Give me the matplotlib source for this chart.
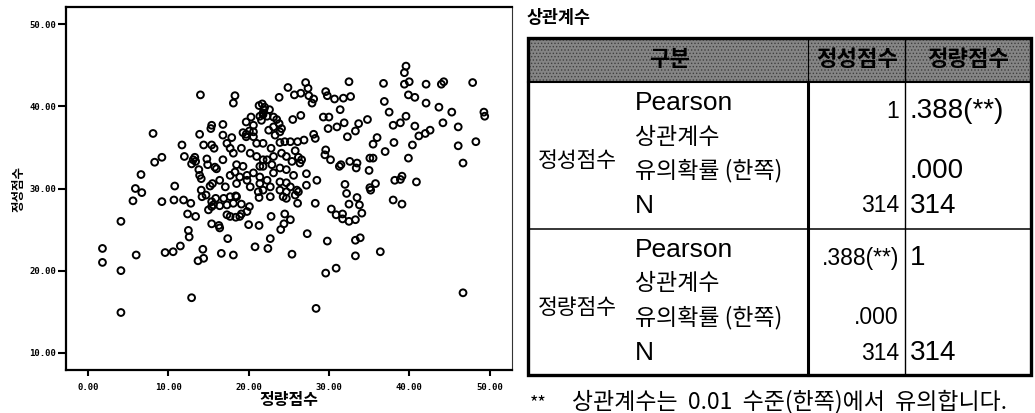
import numpy as np
import matplotlib
matplotlib.use('Agg')
import matplotlib.pyplot as plt
from matplotlib.patches import Rectangle

KR = 'Noto Sans CJK KR'
LAT = 'Liberation Sans'
plt.rcParams['font.family'] = [KR, 'DejaVu Sans']
plt.rcParams['hatch.linewidth'] = 0.6

# --- scatter data (정량점수 vs 정성점수) ---
quant_x = [
    39.6, 39.4, 32.5, 36.8, 39.4, 40.0, 42.1, 44.0, 44.3, 47.9,
    31.8, 32.7, 36.9, 39.9, 40.7, 42.1, 43.7, 45.3, 49.3, 49.4,
    37.5, 39.6, 38.0, 38.9, 40.7, 44.2, 46.1, 31.4, 31.9, 33.7,
    34.8, 33.3, 32.3, 41.2, 42.0, 42.6, 36.0, 35.5, 38.1, 40.4,
    48.3, 46.1, 37.0, 39.9, 35.1, 35.5, 46.7, 32.6, 33.5, 33.4,
    31.5, 35.0, 38.2, 38.9, 39.1, 40.9, 32.0, 35.1, 35.8, 33.5,
    38.0, 32.5, 33.8, 35.2, 39.1, 34.1, 31.7, 31.7, 32.5, 33.3,
    33.3, 33.9, 33.3, 36.4, 46.7,
    28.3, 30.3, 30.9, 27.3, 29.8, 30.9, 29.6, 28.4, 25.4, 22.7,
    22.4, 20.8, 16.6, 18.1, 17.4, 21.3, 20.0, 22.8, 24.0, 24.4,
    25.2, 24.5, 15.4, 16.3, 16.4, 26.1, 25.8, 24.7, 26.2, 21.3,
    21.2,
    4.1, 1.8, 1.8, 4.1, 4.1, 6.0, 12.9, 9.6, 10.6, 11.5,
    12.5, 12.6, 14.3, 14.4, 13.7, 12.4, 13.4, 9.2, 10.7, 11.9,
    12.8, 5.6, 6.7, 5.9, 15.0, 15.6, 16.4, 17.3, 18.1, 18.9,
    19.8, 20.1, 17.3, 17.7,
    14.0, 8.1, 15.4, 15.3, 13.9, 11.7, 14.4, 15.4, 15.7, 9.2,
    8.3, 12.0, 13.3, 13.1, 12.9, 13.4, 14.8, 14.9, 15.8, 16.0,
    6.6, 13.8, 13.9, 14.1, 10.8, 15.5, 15.2, 14.1, 14.7, 14.2,
    27.1, 24.9, 27.4, 18.3, 18.1, 23.8, 25.7, 26.5, 27.5, 28.1,
    27.9, 29.6, 29.8, 30.7, 21.7, 21.3, 22.0, 22.6, 21.8, 22.3,
    23.1, 23.5, 25.5, 26.5, 29.3, 30.0, 20.3, 19.7, 20.6, 23.8,
    24.1, 22.5, 20.6, 16.8, 16.8, 17.9, 29.9, 31.0, 28.1, 28.3,
    19.3, 19.7, 20.6, 21.0, 21.8, 22.8, 23.9, 24.5, 25.2, 26.1,
    26.9, 17.3, 17.7, 18.1, 19.1, 29.6, 29.5, 30.2, 20.2, 21.0,
    21.8, 23.1, 24.1, 24.7, 25.4, 26.2, 26.6, 26.4, 16.8, 18.5,
    19.3, 18.3, 17.7, 18.9, 19.8, 21.8, 22.9, 23.9, 23.1, 24.7,
    25.6, 27.2, 28.5, 31.3, 16.4, 17.1, 18.5, 20.2, 21.4, 21.8,
    22.7, 23.9, 25.2, 26.0, 27.2, 32.2, 17.7, 18.5, 22.7, 24.3,
    18.4, 19.1, 19.1, 18.4, 16.9, 15.9, 15.4, 15.4, 25.8, 22.3,
    21.4, 24.7, 23.9, 22.3, 21.4, 20.6, 19.8, 21.9, 21.8, 21.4,
    21.6, 20.1, 19.7, 23.1, 23.3, 23.9, 24.7,
]
qual_y = [
    44.9, 44.1, 43.0, 42.8, 42.7, 43.0, 42.7, 42.7, 43.0, 42.9,
    41.0, 41.2, 40.6, 41.4, 41.1, 40.4, 39.9, 39.3, 39.3, 38.8,
    39.3, 38.8, 37.7, 38.0, 37.6, 38.0, 37.5, 39.6, 38.0, 37.9,
    38.4, 37.0, 36.3, 36.4, 36.7, 37.1, 36.2, 35.4, 35.6, 35.3,
    35.7, 35.2, 34.5, 33.7, 33.7, 33.7, 33.1, 33.3, 33.1, 32.5,
    32.9, 32.2, 31.0, 31.1, 31.5, 30.8, 30.5, 30.1, 30.6, 28.9,
    28.6, 28.1, 28.0, 29.8, 28.1, 27.0, 26.9, 26.3, 26.0, 26.2,
    23.7, 24.0, 21.8, 22.3, 17.3,
    28.2, 27.5, 26.8, 24.5, 23.6, 20.3, 19.7, 15.4, 22.0, 23.9,
    22.7, 22.9, 22.1, 21.9, 23.9, 25.5, 25.6, 26.6, 25.0, 25.7,
    26.2, 26.9, 25.7, 25.5, 25.2, 28.2, 29.2, 28.8, 29.6, 28.9,
    29.6,
    26.0, 22.7, 21.0, 20.0, 14.9, 21.9, 16.7, 22.2, 22.3, 23.0,
    24.9, 24.1, 22.6, 21.5, 21.2, 26.9, 26.6, 28.4, 28.6, 28.6,
    28.2, 28.5, 29.5, 30.0, 27.4, 28.0, 27.9, 28.0, 28.2, 26.6,
    27.2, 27.8, 26.8, 26.6,
    41.4, 36.7, 37.7, 37.3, 36.6, 35.3, 35.3, 35.3, 34.9, 33.8,
    33.2, 33.9, 33.8, 33.5, 33.0, 33.3, 33.6, 32.9, 32.6, 32.4,
    31.7, 32.3, 31.6, 31.2, 30.3, 30.6, 30.3, 29.8, 29.2, 29.0,
    42.9, 42.3, 42.2, 41.3, 40.4, 41.1, 41.4, 41.6, 41.3, 40.9,
    40.4, 41.8, 41.3, 40.9, 40.3, 40.1, 39.9, 39.6, 39.2, 38.8,
    38.7, 38.4, 38.4, 38.9, 38.7, 38.7, 38.7, 38.1, 37.7, 37.9,
    37.3, 37.1, 36.9, 37.8, 36.5, 36.2, 37.3, 37.5, 36.6, 36.1,
    36.8, 36.3, 36.3, 35.5, 35.5, 34.9, 35.6, 35.7, 35.7, 35.7,
    35.9, 35.5, 34.9, 34.3, 34.9, 34.7, 34.1, 33.5, 34.3, 33.9,
    33.5, 33.9, 34.3, 33.9, 33.3, 33.8, 33.5, 33.1, 33.5, 32.9,
    32.7, 32.0, 31.6, 31.4, 31.0, 32.7, 32.9, 32.5, 31.9, 32.3,
    31.6, 31.8, 31.0, 32.7, 31.0, 30.2, 30.6, 30.2, 30.6, 29.8,
    30.2, 29.8, 30.2, 29.8, 30.4, 29.4, 29.0, 29.0, 29.0, 29.0,
    26.5, 26.9, 28.1, 29.1, 28.8, 28.8, 28.4, 27.8, 34.6, 33.5,
    32.7, 30.7, 30.8, 31.0, 31.4, 31.9, 31.6, 39.6, 39.0, 38.8,
    38.3, 37.0, 36.6, 37.5, 36.5, 36.9, 29.6,
]

x_ticks = [0, 10, 20, 30, 40, 50]
y_ticks = [10, 20, 30, 40, 50]
x_label = '정량점수'
y_label = '정성점수'

# --- correlation table ---
table_title = '상관계수'
header = ['구분', '정성점수', '정량점수']
row_vars = ['정성점수', '정량점수']
stat_names = ['Pearson', '상관계수', '유의확률 (한쪽)', 'N']
corr_vals = [['1', '.388(**)'], ['.388(**)', '1']]
sig_vals = [['', '.000'], ['.000', '']]
n_vals = [['314', '314'], ['314', '314']]
footnote_mark = '**'
footnote = '상관계수는  0.01  수준(한쪽)에서  유의합니다.'

W, H = 1035, 413
fig = plt.figure(figsize=(W / 100, H / 100), dpi=100)
fig.patch.set_facecolor('white')

# scatter panel
ax = fig.add_axes([66 / W, 1 - 370 / H, (512 - 66) / W, (370 - 7) / H])
ax.scatter(quant_x, qual_y, s=24, facecolors='none', edgecolors='black', linewidths=1.4)
ax.set_xlim(-2.74, 52.8)
ax.set_ylim(7.9, 52.1)
ax.set_xticks(x_ticks)
ax.set_xticklabels([f'{v:.2f}' for v in x_ticks])
ax.set_yticks(y_ticks)
ax.set_yticklabels([f'{v:.2f}' for v in y_ticks])
ax.tick_params(axis='y', length=6, width=1.5, pad=1, labelsize=6.5)
ax.tick_params(axis='x', length=4, width=1.5, pad=5, labelsize=6.5)
for lbl in ax.get_xticklabels() + ax.get_yticklabels():
    lbl.set_fontfamily('DejaVu Sans Mono')
    lbl.set_fontweight('bold')
for side in ['left', 'bottom', 'top']:
    ax.spines[side].set_linewidth(1.6)
ax.spines['right'].set_linewidth(0.8)
ax.spines['right'].set_color('#333333')
ax.set_xlabel(x_label, fontsize=11.5, fontweight='bold', va='center')
ax.xaxis.set_label_coords(0.5, -0.083)
ax.set_ylabel(y_label, fontsize=9, fontweight='bold', va='center')
ax.yaxis.set_label_coords(-0.105, 0.5)

# table panel, drawn in pixel units
tab = fig.add_axes([0, 0, 1, 1])
tab.set_xlim(0, W)
tab.set_ylim(H, 0)
tab.axis('off')
tab.patch.set_visible(False)

TL, TR, TT, TB = 528, 1031, 38, 375
HB, MID = 82, 229
C1, C2 = 808, 905

tab.add_patch(Rectangle((TL, TT), TR - TL, HB - TT, facecolor='#858585',
                        edgecolor='#404040', hatch='.....', lw=0))
tab.plot([TL, TR], [HB, HB], color='black', lw=1.5)
tab.plot([TL, TR], [MID, MID], color='black', lw=1.1)
tab.plot([C1, C1], [TT, HB], color='black', lw=0.8)
tab.plot([C1, C1], [HB, TB], color='black', lw=2.2)
tab.plot([C2, C2], [TT, TB], color='black', lw=1.0)
tab.add_patch(Rectangle((TL, TT), TR - TL, TB - TT, fill=False,
                        edgecolor='black', lw=2.4))

tab.text(527, 18, table_title, fontsize=12.5, fontweight='bold', ha='left', va='center')
for x, txt in zip([670, 857, 968], header):
    tab.text(x, 60, txt, fontsize=16, fontweight='bold', ha='center', va='center')

block_tops = [HB, MID]
stat_off = [21, 55, 89, 124]
for b, top in enumerate(block_tops):
    tab.text(538, top + 79, row_vars[b], fontsize=15.5, ha='left', va='center')
    for off, name in zip(stat_off, stat_names):
        if name in ('Pearson', 'N'):
            tab.text(635, top + off, name, fontsize=19, family=LAT,
                     ha='left', va='center')
        else:
            tab.text(635, top + off, name, fontsize=16.5, ha='left', va='center')
    rows = [(corr_vals[b], top + 29), (sig_vals[b], top + 89), (n_vals[b], top + 124)]
    for vals, yy in rows:
        tab.text(899, yy, vals[0], fontsize=16.5, family=LAT, ha='right', va='center')
        tab.text(910, yy, vals[1], fontsize=20, family=LAT, ha='left', va='center')

tab.text(530, 408, footnote_mark, fontsize=13, ha='left', va='baseline')
tab.text(572, 408, footnote, fontsize=16.5, ha='left', va='baseline')

fig.savefig('out.png', dpi=100)
